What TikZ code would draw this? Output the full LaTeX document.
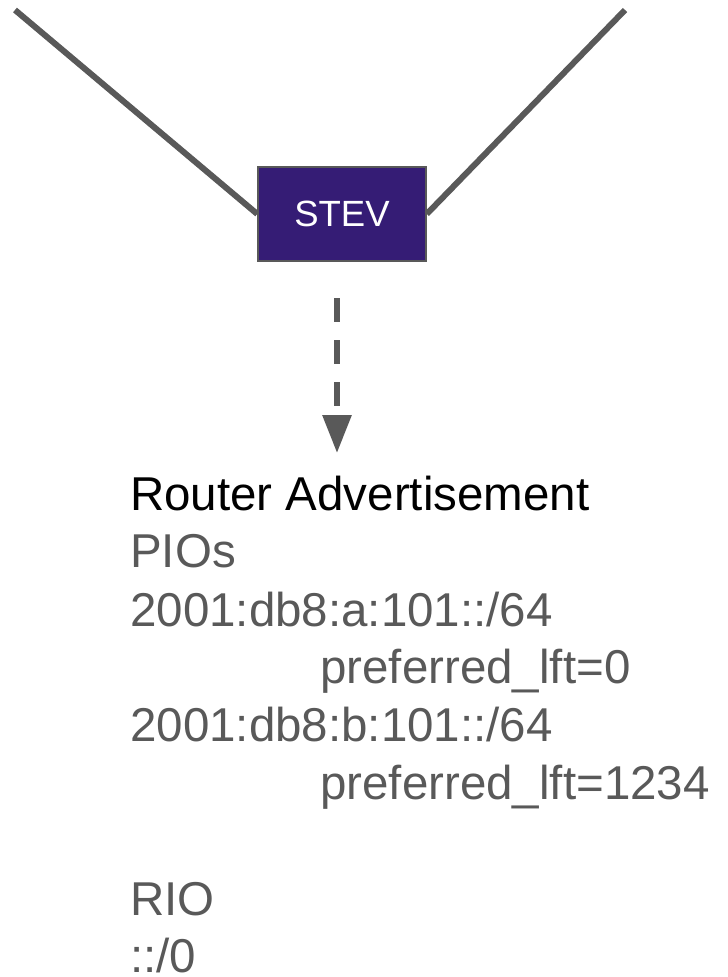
\documentclass[tikz,border=0pt]{standalone}
\usepackage{fontspec}
\setmainfont{Liberation Sans}
\usetikzlibrary{arrows.meta}
\definecolor{linegray}{HTML}{595959}
\definecolor{boxpurple}{HTML}{351C75}
\begin{document}
\begin{tikzpicture}[x=1pt,y=-1pt,
  wire/.style={draw=linegray,line width=6pt},
  devbox/.style={draw=linegray,line width=1.5pt,fill=boxpurple,text=white,
    minimum width=168pt,minimum height=94pt,inner sep=0pt,
    font=\fontsize{36.5}{40}\selectfont},
  flow/.style={draw=linegray,line width=6pt,dash pattern=on 24pt off 18pt,
    -{Triangle[width=28pt,length=38pt]}},
  msg/.style={anchor=base west,inner sep=0pt,text depth=0pt,text=linegray,
    font=\fontsize{47.5}{54}\selectfont},
  msgtitle/.style={msg,text=black}]
\useasboundingbox (0,0) rectangle (728,977);

% device and its two uplinks
\node[devbox] (stev) at (342,214) {STEV};
\coordinate (upL) at (15,10);
\coordinate (upR) at (625,10);
\draw[wire] (upL) -- (stev.west);
\draw[wire] (upR) -- (stev.east);

% advertisement sent by the device
\coordinate (raFrom) at (337,298);
\coordinate (raTo) at (337,453);
\draw[flow] (raFrom) -- (raTo);

% message contents
\node[msgtitle] (title) at (130,510) {Router Advertisement};
\node[msg] (pios) at (130,567) {PIOs};
\node[msg] (pfxA) at (130,626) {2001:db8:a:101::/64};
\node[msg] (lftA) at (320,683) {preferred\_lft=0};
\node[msg] (pfxB) at (130,741) {2001:db8:b:101::/64};
\node[msg] (lftB) at (320,799) {preferred\_lft=1234};
\node[msg] (rio) at (130,915) {RIO};
\node[msg] (route) at (130,972) {::/0};
\end{tikzpicture}
\end{document}
